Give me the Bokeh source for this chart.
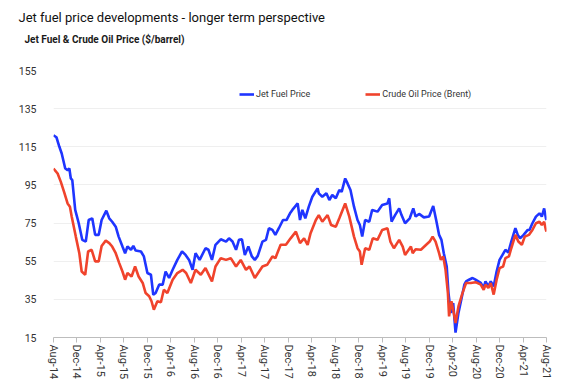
from bokeh.plotting import figure
from bokeh.models import Title, Legend, LegendItem, FixedTicker
from bokeh.embed import file_html
from bokeh.resources import INLINE

# months since Aug-2014 and prices ($/barrel)
jet_month = [0, 0.5, 1, 1.4, 2, 2.4, 2.7, 2.95, 3.2, 3.7, 4.3, 4.9, 5.5, 6, 6.6, 7.1, 7.7, 8.2, 9, 9.5,
             10, 10.6, 11.1, 11.75, 12.2, 12.6, 13.2, 13.6, 14, 14.9, 15.4, 16, 16.6, 17, 17.4, 18, 18.6,
             19.1, 19.7, 20.3, 21.1, 21.9, 22.5, 23.1, 23.7, 24.2, 24.9, 25.9, 26.4, 27, 27.6, 28.5, 29.4,
             29.9, 30.5, 31.1, 31.6, 32.1, 32.6, 33.2, 33.8, 34.3, 34.8, 35.6, 36.2, 36.7, 37.3, 37.8, 38.4,
             39.1, 39.7, 40.3, 40.7, 41.6, 42, 42.4, 42.9, 43.5, 44.1, 45, 45.2, 45.8, 46.5, 47, 47.5, 48.1,
             48.7, 49.1, 49.7, 50.1, 50.6, 51.2, 51.8, 52.2, 52.6, 53.1, 53.8, 54.3, 55.2, 56, 56.9, 57.2,
             57.6, 58.2, 58.9, 59.3, 59.9, 60.7, 61.3, 61.7, 62.3, 63.1, 64, 64.7, 65.2, 65.7, 66.1, 66.5,
             67, 67.3, 67.7, 68.1, 68.5, 69, 69.6, 70, 70.3, 70.8, 71.4, 71.9, 72.8, 73.3, 73.6, 74.1, 74.5,
             75, 75.5, 76, 76.5, 77, 77.5, 78, 78.7, 79.1, 79.5, 80.1, 80.8, 81.1, 81.6, 82.2, 82.8, 83.2,
             83.6, 83.9, 84]
jet_price = [121, 120, 115, 111.5, 103.6, 102.8, 103.6, 98.4, 97.5, 81.9, 74.9, 66.2, 65.3, 76.6, 77.5,
             68.8, 68.8, 76.6, 81.5, 77.5, 75.7, 73.1, 67.9, 62.7, 59.2, 62.7, 61, 63, 60.6, 60.1, 57.5,
             48.8, 47.9, 37.4, 38.3, 42.7, 42.7, 49.6, 46.2, 50.5, 55.7, 60.1, 58.3, 55.7, 50.5, 59.2, 55.7,
             61.8, 61, 55.7, 63.6, 66.5, 65.3, 67, 65.3, 61, 66.2, 66.5, 58.3, 62.7, 57.5, 55.7, 57.8, 65.3,
             66.2, 72.3, 71.4, 68.8, 72.3, 76.6, 76.6, 80.1, 81.9, 85.3, 76.6, 81.9, 77.5, 83.6, 88.8, 93.2,
             90.6, 88.8, 90.6, 87.1, 89.7, 88, 92.3, 91.4, 98.4, 95.8, 92.3, 83.6, 76.6, 74, 67.9, 76.6,
             75.7, 81.9, 81, 84.5, 85.3, 88, 75.7, 79.2, 82.7, 79.2, 74.9, 77.5, 82.7, 78.4, 79.8, 78, 78.4,
             83.9, 76.6, 68.8, 66.2, 59.2, 52.2, 38.3, 27.9, 33.1, 17.6, 27.9, 36.6, 42.7, 44.4, 45.3, 46.2,
             45.3, 43.6, 41, 44.4, 41.8, 44.4, 41.8, 49.6, 55.7, 58.3, 61, 59.6, 65.3, 72.3, 68.8, 67, 68.8,
             71.4, 71.4, 74.9, 78.4, 80.1, 78.4, 82.7, 77.5, 76.6]

brent_month = [0, 0.7, 1.25, 1.8, 2.4, 2.8, 3.1, 3.8, 4.4, 4.8, 5.4, 5.9, 6.5, 7.1, 7.7, 8.2, 8.9, 9.5,
               10, 10.6, 11.2, 11.75, 12.2, 12.6, 13.3, 13.9, 14.5, 15.2, 15.7, 16.3, 16.7, 17.1, 17.7,
               18.3, 18.8, 19.4, 20.3, 21.1, 22, 22.6, 23.4, 24.2, 25.1, 25.9, 27, 27.6, 28.5, 29.4, 30.2,
               31.1, 31.9, 32.8, 33.4, 34.3, 35.6, 36.4, 37.3, 37.8, 38.7, 39.6, 40.4, 41.3, 42, 42.7, 43.3,
               43.8, 44.7, 45.2, 45.8, 46.7, 47.3, 48.1, 48.7, 49.7, 50.4, 51.2, 51.8, 52.2, 52.5, 53.1,
               53.8, 54.4, 55.2, 56, 56.9, 57.4, 58, 58.9, 59.5, 59.9, 60.9, 61.2, 61.7, 62.6, 63.5, 64.1,
               64.6, 65.1, 65.7, 66, 66.4, 66.8, 67.2, 67.4, 67.8, 68.2, 68.5, 69, 69.6, 70, 70.3, 71.1,
               71.9, 72.8, 73.3, 73.6, 74.1, 74.5, 75, 75.5, 76, 76.6, 77, 77.6, 78, 78.7, 79.2, 79.8,
               80.3, 81, 81.6, 82.2, 82.8, 83.2, 83.6, 83.9, 84]
brent_price = [103.6, 101, 96.6, 91.4, 85.3, 83.6, 78.4, 67.9, 59.2, 49.6, 47.9, 60.1, 61, 54.9, 54.9,
               63, 65.8, 64.5, 62.7, 59.2, 54, 49.6, 45.3, 48.8, 47, 52.2, 47, 43.6, 38.3, 36.6, 34, 29.6,
               34, 33.5, 40, 38.3, 45.3, 48.8, 50.5, 48.8, 43.6, 50.5, 47.9, 51.4, 44.4, 52.2, 56.6, 55.7,
               56.6, 52.2, 55.7, 50.5, 52.2, 46.2, 52.2, 53.1, 57.5, 56.6, 63.6, 63.6, 67, 70.5, 64.5, 67,
               63.6, 69.7, 76.6, 79.2, 75.7, 79.2, 74, 73.1, 77.5, 85.3, 78.4, 67.9, 61.8, 60.1, 53.1, 61.8,
               61, 67, 66.2, 71.4, 72.3, 65.3, 61.8, 66.2, 62.7, 58.3, 62.7, 59.2, 61.3, 61, 63.6, 65.3,
               67.9, 65.3, 59.2, 55.7, 57.5, 50.5, 38.3, 26.1, 34, 27.9, 22.6, 31.3, 37.5, 41, 43.6, 43.6,
               44, 42.7, 40, 42.7, 41, 43.6, 37.5, 45.3, 51.4, 52.2, 56.6, 57.5, 61.8, 68.8, 65.3, 63.6,
               67.9, 68.8, 71.4, 74.9, 75.7, 74, 75.7, 71.4, 70.5]

tick_months = [0, 4, 8, 12, 16, 20, 24, 28, 32, 36, 40, 44, 48, 52, 56, 60, 64, 68, 72, 76, 80, 84]
tick_labels = ["Aug-14", "Dec-14", "Apr-15", "Aug-15", "Dec-15", "Apr-16", "Aug-16", "Dec-16",
               "Apr-17", "Aug-17", "Dec-17", "Apr-18", "Aug-18", "Dec-18", "Apr-19", "Aug-19",
               "Dec-19", "Apr-20", "Aug-20", "Dec-20", "Apr-21", "Aug-21"]
y_ticks = [15, 35, 55, 75, 95, 115, 135, 155]

title_text = "Jet fuel price developments - longer term perspective"
subtitle_text = "Jet Fuel & Crude Oil Price ($/barrel)"
series_names = ["Jet Fuel Price", "Crude Oil Price (Brent)"]

FONT = "Roboto"
BLUE = "#1f35ff"
RED = "#f0432c"

p = figure(width=563, height=382, output_backend="svg", toolbar_location=None,
           x_range=(0, 84), y_range=(15, 155),
           min_border_left=53, min_border_right=17, min_border_top=70, min_border_bottom=44)
p.outline_line_color = None
p.background_fill_color = "white"

r_jet = p.line(jet_month, jet_price, line_color=BLUE, line_width=2.6)
r_brent = p.line(brent_month, brent_price, line_color=RED, line_width=2.6)

# axes
p.xaxis.ticker = FixedTicker(ticks=tick_months)
p.xaxis.major_label_overrides = {m: lab for m, lab in zip(tick_months, tick_labels)}
p.xaxis.major_label_orientation = "vertical"
p.xaxis.major_label_text_font = FONT
p.xaxis.major_label_text_font_size = "11px"
p.xaxis.major_label_text_color = "#333333"
p.xaxis.axis_line_color = "#bdbdbd"
p.xaxis.major_tick_line_color = "#bdbdbd"
p.xaxis.major_tick_out = 5
p.xaxis.major_tick_in = 0
p.xaxis.minor_tick_line_color = None
p.xaxis.major_label_standoff = 2

p.yaxis.ticker = FixedTicker(ticks=y_ticks)
p.yaxis.axis_line_color = None
p.yaxis.major_tick_line_color = None
p.yaxis.minor_tick_line_color = None
p.yaxis.major_label_text_font = FONT
p.yaxis.major_label_text_font_size = "10.5px"
p.yaxis.major_label_text_color = "#333333"
p.yaxis.major_label_standoff = 11

p.xgrid.grid_line_color = None
p.ygrid.ticker = FixedTicker(ticks=y_ticks[1:])
p.ygrid.grid_line_color = "#efefef"
p.ygrid.grid_line_width = 1

legend = Legend(items=[LegendItem(label=series_names[0], renderers=[r_jet]),
                       LegendItem(label=series_names[1], renderers=[r_brent])],
                orientation="horizontal", location=(186, 237),
                padding=0, margin=0, spacing=55, glyph_width=15, glyph_height=12,
                label_height=12, label_standoff=2,
                label_text_font=FONT, label_text_font_size="9px", label_text_color="#333333",
                background_fill_alpha=0, border_line_color=None)
p.add_layout(legend)

# spacer between subtitle and plot area
p.add_layout(Title(text=" ", standoff=20, text_font=FONT, text_font_size="1px"), "above")
p.add_layout(Title(text=subtitle_text, align="left", offset=-29, standoff=4.5,
                   text_font=FONT, text_font_size="10px", text_font_style="bold",
                   text_color="#1a1a1a"), "above")
p.add_layout(Title(text=title_text, align="left", offset=-35, standoff=10,
                   text_font=FONT, text_font_size="13px", text_font_style="normal",
                   text_color="#111111"), "above")

open("out.html", "w").write(file_html(p, INLINE))
